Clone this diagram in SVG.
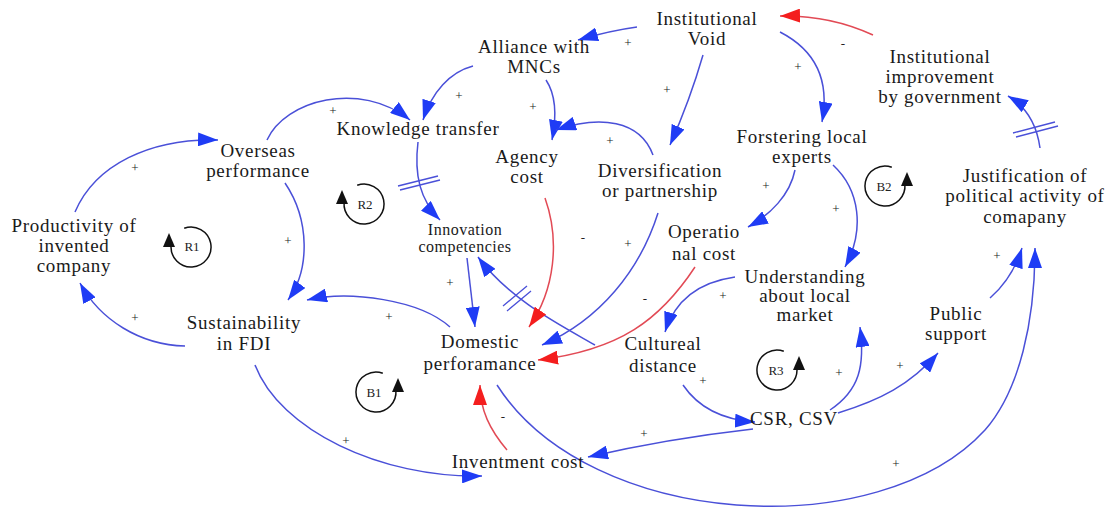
<svg xmlns="http://www.w3.org/2000/svg" width="1113" height="516" viewBox="0 0 1113 516">
<style>
.n{font-family:"Liberation Serif","Times New Roman",serif;font-size:19px;letter-spacing:0.7px;fill:#1a1a1a;text-anchor:middle}
.s{font-family:"Liberation Serif","Times New Roman",serif;font-size:16px;letter-spacing:0.5px;fill:#1a1a1a;text-anchor:middle}
.p{font-family:"Liberation Serif","Times New Roman",serif;font-size:13px;fill:#222;text-anchor:middle;dominant-baseline:central}
.l{font-family:"Liberation Serif","Times New Roman",serif;font-size:13px;fill:#222;text-anchor:middle;dominant-baseline:central}
.b{fill:none;stroke:#4a50d8;stroke-width:1.5}
.r{fill:none;stroke:#e24a55;stroke-width:1.5}
.h{fill:none;stroke:#4a50d8;stroke-width:1.3}
.lp{fill:none;stroke:#111;stroke-width:1.5}
</style>
<defs>
<marker id="ab" markerUnits="userSpaceOnUse" markerWidth="22" markerHeight="14" refX="20" refY="7" orient="auto"><path d="M0,0 L20,7 L0,14 z" fill="#1f3cf5"/></marker>
<marker id="ar" markerUnits="userSpaceOnUse" markerWidth="22" markerHeight="14" refX="20" refY="7" orient="auto"><path d="M0,0 L20,7 L0,14 z" fill="#f41e1e"/></marker>
</defs>
<rect width="1113" height="516" fill="#fff"/>

<g id="connectors">
<path class="b" d="M75,212 C95,165 150,138 218,140" marker-end="url(#ab)"/>
<path class="b" d="M185,346 C140,345 100,320 80,283" marker-end="url(#ab)"/>
<path class="b" d="M267,140 C285,100 360,80 410,120" marker-end="url(#ab)"/>
<path class="b" d="M473,66 C450,72 432,92 423,120" marker-end="url(#ab)"/>
<path class="b" d="M546,80 C556,95 557,115 552,140" marker-end="url(#ab)"/>
<path class="b" d="M653,155 C640,120 600,115 556,130" marker-end="url(#ab)"/>
<path class="b" d="M637,27 C615,30 595,35 578,40" marker-end="url(#ab)"/>
<path class="b" d="M703,55 Q690,100 670,145" marker-end="url(#ab)"/>
<path class="b" d="M780,32 C815,50 830,80 822,122" marker-end="url(#ab)"/>
<path class="r" d="M873,35 Q830,15 780,16" marker-end="url(#ar)"/>
<path class="b" d="M1040,148 Q1035,112 1008,96" marker-end="url(#ab)"/>
<path class="b" d="M418,142 C414,175 420,200 440,220" marker-end="url(#ab)"/>
<path class="b" d="M285,183 C310,220 310,270 288,300" marker-end="url(#ab)"/>
<path class="b" d="M450,327 C420,300 350,290 307,300" marker-end="url(#ab)"/>
<path class="b" d="M467,258 L475,327" marker-end="url(#ab)"/>
<path class="b" d="M595,345 C560,325 510,300 478,257" marker-end="url(#ab)"/>
<path class="r" d="M545,198 C560,240 555,290 529,327" marker-end="url(#ar)"/>
<path class="b" d="M658,213 C640,270 600,320 542,345" marker-end="url(#ab)"/>
<path class="r" d="M695,267 C660,320 620,350 538,360" marker-end="url(#ar)"/>
<path class="b" d="M795,170 C790,195 770,215 748,227" marker-end="url(#ab)"/>
<path class="b" d="M833,165 C860,190 865,230 845,267" marker-end="url(#ab)"/>
<path class="b" d="M735,277 C700,282 675,300 665,332" marker-end="url(#ab)"/>
<path class="b" d="M683,385 C700,410 725,420 755,422" marker-end="url(#ab)"/>
<path class="b" d="M753,429 C700,435 640,445 588,457" marker-end="url(#ab)"/>
<path class="b" d="M830,410 C860,390 865,365 860,327" marker-end="url(#ab)"/>
<path class="b" d="M838,413 C880,400 910,385 938,353" marker-end="url(#ab)"/>
<path class="b" d="M990,298 C1005,285 1015,270 1022,248" marker-end="url(#ab)"/>
<path class="b" d="M497,385 C590,530 880,545 985,430 C1020,390 1035,320 1035,248" marker-end="url(#ab)"/>
<path class="b" d="M255,365 C280,430 380,478 482,476" marker-end="url(#ab)"/>
<path class="r" d="M507,450 C490,430 480,410 480,385" marker-end="url(#ar)"/>
<!-- delay marks -->
<path class="h" d="M1013,133 L1055,122 M1016,137 L1058,126"/>
<path class="h" d="M398,186 L438,176 M400,190 L440,180"/>
<path class="h" d="M503,306 L527,286 M507,311 L531,291"/>
<!-- polarities -->
<text class="p" x="135" y="167">+</text>
<text class="p" x="135" y="317">+</text>
<text class="p" x="333" y="110">+</text>
<text class="p" x="459" y="95">+</text>
<text class="p" x="533" y="106">+</text>
<text class="p" x="628" y="42">+</text>
<text class="p" x="667" y="89">+</text>
<text class="p" x="798" y="66">+</text>
<text class="p" x="843" y="43">-</text>
<text class="p" x="610" y="140">+</text>
<text class="p" x="288" y="240">+</text>
<text class="p" x="389" y="316">+</text>
<text class="p" x="450" y="282">+</text>
<text class="p" x="583" y="237">-</text>
<text class="p" x="628" y="243">+</text>
<text class="p" x="645" y="298">-</text>
<text class="p" x="766" y="185">+</text>
<text class="p" x="836" y="208">+</text>
<text class="p" x="723" y="295">+</text>
<text class="p" x="703" y="380">+</text>
<text class="p" x="644" y="433">+</text>
<text class="p" x="839" y="372">+</text>
<text class="p" x="900" y="365">+</text>
<text class="p" x="997" y="255">+</text>
<text class="p" x="896" y="463">+</text>
<text class="p" x="346" y="440">+</text>
<text class="p" x="503" y="416">-</text>
</g>

<g id="loop-R1"><path class="lp" d="M184.2,228.2 A20,20 0 1 1 171.1,245.3"/><path d="M169,233 L163,247 L175,247 z" fill="#111"/><text class="l" x="192" y="246">R1</text></g>
<g id="loop-R2"><path class="lp" d="M357.2,185.2 A20,20 0 1 1 344.1,202.3"/><path d="M342,190 L336,204 L348,204 z" fill="#111"/><text class="l" x="365" y="204">R2</text></g>
<g id="loop-B1"><path class="lp" d="M382.8,373.2 A20,20 0 1 0 395.9,390.3"/><path d="M398,378 L392,392 L404,392 z" fill="#111"/><text class="l" x="374" y="392">B1</text></g>
<g id="loop-B2"><path class="lp" d="M891.8,167.2 A20,20 0 1 0 904.9,184.3"/><path d="M907,172 L901,186 L913,186 z" fill="#111"/><text class="l" x="884" y="186">B2</text></g>
<g id="loop-R3"><path class="lp" d="M783.8,351.2 A20,20 0 1 0 796.9,368.3"/><path d="M799,356 L793,370 L805,370 z" fill="#111"/><text class="l" x="776" y="370">R3</text></g>

<g id="n-void"><text class="n" x="707" y="25">Institutional<tspan x="707" dy="20">Void</tspan></text></g>
<g id="n-alliance"><text class="n" x="534" y="53">Alliance with<tspan x="534" dy="20">MNCs</tspan></text></g>
<g id="n-knowledge"><text class="n" x="418" y="135">Knowledge transfer</text></g>
<g id="n-overseas"><text class="n" x="258" y="157">Overseas<tspan x="258" dy="20">performance</tspan></text></g>
<g id="n-productivity"><text class="n" x="74" y="232">Productivity of<tspan x="74" dy="20">invented</tspan><tspan x="74" dy="20">company</tspan></text></g>
<g id="n-sustainability"><text class="n" x="244" y="329">Sustainability<tspan x="244" dy="21">in FDI</tspan></text></g>
<g id="n-agency"><text class="n" x="527" y="163">Agency<tspan x="527" dy="20">cost</tspan></text></g>
<g id="n-diversification"><text class="n" x="660" y="177">Diversification<tspan x="660" dy="20">or partnership</tspan></text></g>
<g id="n-forstering"><text class="n" x="802" y="143">Forstering local<tspan x="802" dy="20">experts</tspan></text></g>
<g id="n-improvement"><text class="n" x="940" y="63">Institutional<tspan x="940" dy="20">improvement</tspan><tspan x="940" dy="20">by government</tspan></text></g>
<g id="n-justification"><text class="n" x="1025" y="182">Justification of<tspan x="1025" dy="20">political activity of</tspan><tspan x="1025" dy="21">comapany</tspan></text></g>
<g id="n-innovation"><text class="s" x="465" y="235">Innovation<tspan x="465" dy="17">competencies</tspan></text></g>
<g id="n-operational"><text class="n" x="704" y="238">Operatio<tspan x="704" dy="22">nal cost</tspan></text></g>
<g id="n-understanding"><text class="n" x="805" y="283">Understanding<tspan x="805" dy="19">about local</tspan><tspan x="805" dy="19">market</tspan></text></g>
<g id="n-domestic"><text class="n" x="480" y="348">Domestic<tspan x="480" dy="22">perforamance</tspan></text></g>
<g id="n-cultureal"><text class="n" x="663" y="350">Cultureal<tspan x="663" dy="22">distance</tspan></text></g>
<g id="n-csr"><text class="n" x="794" y="425">CSR, CSV</text></g>
<g id="n-public"><text class="n" x="956" y="320">Public<tspan x="956" dy="20">support</tspan></text></g>
<g id="n-inventment"><text class="n" x="518" y="468">Inventment cost</text></g>
</svg>
